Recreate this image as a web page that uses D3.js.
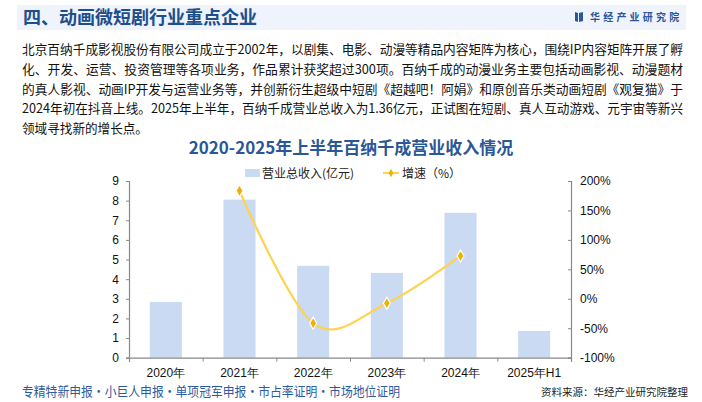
<!DOCTYPE html>
<html><head><meta charset="utf-8">
<script src="https://cdn.jsdelivr.net/npm/d3@7"></script>
<style>
html,body{margin:0;padding:0;background:#fff;}
svg{display:block;}
</style></head>
<body><svg id="c" width="702" height="402"></svg>
<script>
const categories = ["2020年","2021年","2022年","2023年","2024年","2025年H1"];
const revenue = [2.84, 8.05, 4.68, 4.32, 7.38, 1.36];
const growth = [null, 183.5, -41.4, -7.4, 72.7, null];
const leftTicks = [0,1,2,3,4,5,6,7,8,9];
const rightTicks = [-100,-50,0,50,100,150,200];
const pageTitle = "四、动画微短剧行业重点企业";
const brand = "华经产业研究院";
const chartTitle = "2020-2025年上半年百纳千成营业收入情况";
const paragraph = [
 "北京百纳千成影视股份有限公司成立于2002年，以剧集、电影、动漫等精品内容矩阵为核心，围绕IP内容矩阵开展了孵",
 "化、开发、运营、投资管理等各项业务，作品累计获奖超过300项。百纳千成的动漫业务主要包括动画影视、动漫题材",
 "的真人影视、动画IP开发与运营业务等，并创新衍生超级中短剧《超越吧！阿娟》和原创音乐类动画短剧《观复猫》于",
 "2024年初在抖音上线。2025年上半年，百纳千成营业总收入为1.36亿元，正试图在短剧、真人互动游戏、元宇宙等新兴",
 "领域寻找新的增长点。"
];
const legendLabels = ["营业总收入(亿元)","增速（%）"];
const footerLeft = "专精特新申报·小巨人申报·单项冠军申报·市占率证明·市场地位证明";
const footerRight = "资料来源：华经产业研究院整理";

const svg = d3.select("#c");
const CJK = "'Noto Sans CJK SC','Noto Sans',sans-serif";
const AX = "'Liberation Sans',Arial,sans-serif";

// header
svg.append("rect").attr("x",17).attr("y",5).attr("width",669).attr("height",25).attr("fill","#EEF3FC");
svg.append("text").attr("x",23).attr("y",24).attr("font-family",CJK).attr("font-weight","bold")
  .attr("font-size",18).attr("fill","#1F4E8C").text(pageTitle);
// brand icon
const ig = svg.append("g").attr("fill","#2F5597");
ig.append("path").attr("d","M575,12 L578,13 L578,22 L575,21 Z");
ig.append("path").attr("d","M579,13 L583,12 L583,21 L579,22 Z");
svg.append("text").attr("x",590).attr("y",21).attr("font-family",CJK).attr("font-weight","bold")
  .attr("font-size",10).attr("letter-spacing",3.2).attr("fill","#2F5597").text(brand);

// paragraph
paragraph.forEach((l,i)=>{
  const t = svg.append("text").attr("x",22).attr("y",54+i*19.8).attr("font-family",CJK)
    .attr("font-size",12.6).attr("fill","#111").text(l);
  if(i<paragraph.length-1) t.attr("textLength",661).attr("lengthAdjust","spacingAndGlyphs");
});

// chart title
svg.append("text").attr("x",351).attr("y",154).attr("text-anchor","middle").attr("font-family",CJK)
  .attr("font-weight","bold").attr("font-size",17).attr("fill","#2B5797").text(chartTitle);

// scales
const L=129, R=571, T=181, B=357.7;
const x = d3.scaleBand().domain(categories).range([L,R]).paddingInner(0.565).paddingOuter(0.2825);
const y = d3.scaleLinear().domain([0,9]).range([B,T]);
const y2 = d3.scaleLinear().domain([-100,200]).range([B,T]);

// bars
svg.append("g").selectAll("rect").data(categories).join("rect")
  .attr("x",d=>x(d)).attr("width",x.bandwidth())
  .attr("y",(d,i)=>y(revenue[i])).attr("height",(d,i)=>B-y(revenue[i]))
  .attr("fill","#C9DAF2");

// axes
const axColor = "#898989";
const gl = svg.append("g").attr("transform",`translate(${L},0)`)
  .call(d3.axisLeft(y).tickValues(leftTicks).tickSize(3).tickPadding(7).tickFormat(d3.format("d")));
const gr = svg.append("g").attr("transform",`translate(${R},0)`)
  .call(d3.axisRight(y2).tickValues(rightTicks).tickSize(-3).tickPadding(9).tickFormat(d=>d+"%"));
const xb = d3.scaleLinear().domain([0,categories.length]).range([L,R]);
const gx = svg.append("g").attr("transform",`translate(0,${B})`)
  .call(d3.axisBottom(xb).tickValues(d3.range(categories.length+1)).tickSize(4).tickFormat(""));
[gl,gr,gx].forEach(g=>{
  g.select(".domain").attr("stroke",axColor).attr("stroke-width",1.2);
  g.selectAll(".tick line").attr("stroke",axColor);
  g.selectAll("text").attr("font-family",AX).attr("font-size",12).attr("fill","#111");
});
// x labels
svg.append("g").selectAll("text").data(categories).join("text")
  .attr("x",d=>x(d)+x.bandwidth()/2).attr("y",376.5).attr("text-anchor","middle")
  .attr("font-family",AX).attr("font-size",12).attr("fill","#111").text(d=>d);

// line
const pts = categories.map((c,i)=>({c,v:growth[i]})).filter(d=>d.v!==null);
const cx = d=>x(d.c)+x.bandwidth()/2;
svg.append("path").datum(pts)
  .attr("d",d3.line().x(cx).y(d=>y2(d.v)).curve(d3.curveCardinal.tension(0)))
  .attr("fill","none").attr("stroke","#FFD24F").attr("stroke-width",2.2);
const diamond = d3.symbol().type(d3.symbolDiamond).size(42);
svg.append("g").selectAll("path").data(pts).join("path")
  .attr("transform",d=>`translate(${cx(d)},${y2(d.v)})`).attr("d",diamond)
  .attr("fill","#F0B000").attr("stroke","#fff").attr("stroke-width",1.2);

// legend
svg.append("rect").attr("x",245).attr("y",169).attr("width",15).attr("height",8).attr("fill","#C9DAF2");
svg.append("text").attr("x",262).attr("y",177.5).attr("font-family",CJK).attr("font-size",12)
  .attr("fill","#222").text(legendLabels[0]);
svg.append("line").attr("x1",383).attr("x2",399).attr("y1",173).attr("y2",173)
  .attr("stroke","#FFD24F").attr("stroke-width",2);
svg.append("path").attr("transform","translate(391,173)").attr("d",d3.symbol().type(d3.symbolDiamond).size(20))
  .attr("fill","#F0B000");
svg.append("text").attr("x",402).attr("y",177.5).attr("font-family",CJK).attr("font-size",12)
  .attr("fill","#222").text(legendLabels[1]);

// footer
svg.append("text").attr("x",22).attr("y",396).attr("font-family",CJK).attr("font-size",13)
  .attr("fill","#2D5C9E").attr("textLength",378).attr("lengthAdjust","spacingAndGlyphs").text(footerLeft);
svg.append("text").attr("x",688).attr("y",396).attr("text-anchor","end").attr("font-family",CJK)
  .attr("font-size",10.5).attr("fill","#222").text(footerRight);
</script></body></html>
